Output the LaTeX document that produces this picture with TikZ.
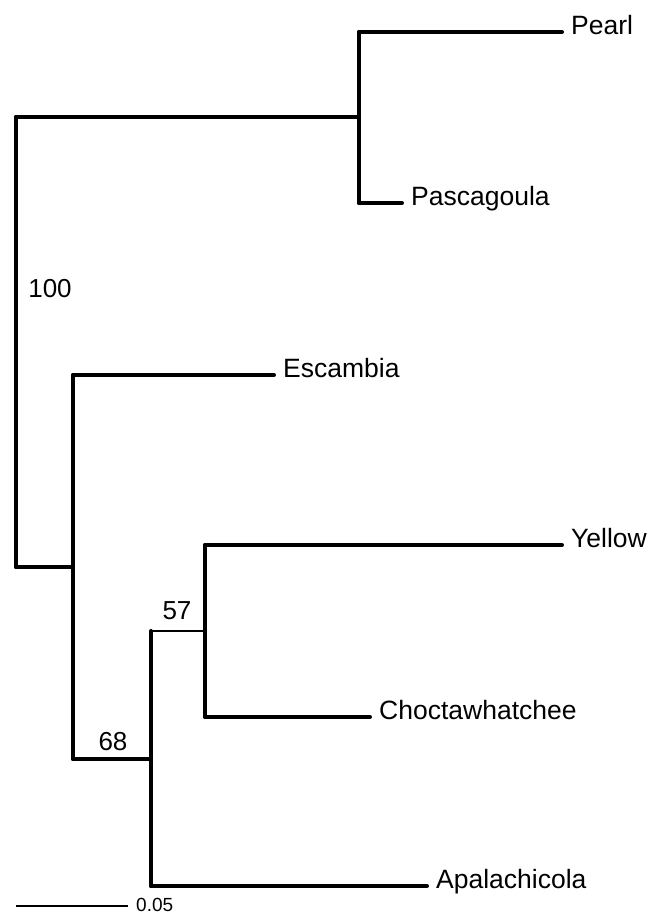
\documentclass[tikz,border=0pt]{standalone}
\usepackage{fontspec}
\setmainfont{Liberation Sans}
\usetikzlibrary{positioning, calc}

\begin{document}
\begin{tikzpicture}[
  x=1pt, y=-1pt,
  branch/.style={line width=4pt, line cap=round, black},
  thinbranch/.style={line width=2pt, black},
  taxon/.style={anchor=mid west, inner sep=0pt, xshift=9pt,
        font=\fontsize{26.5}{31}\selectfont},
  support/.style={inner sep=0pt, font=\fontsize{26}{29}\selectfont},
  scalelbl/.style={anchor=mid west, inner sep=0pt,
        font=\fontsize{19}{22}\selectfont},
]
\useasboundingbox (0,0) rectangle (660,916);

% --- internal nodes (x = depth, y = midpoint of the children) ---
\coordinate (root)  at (16,342);
\coordinate (east)  at (359,117);
\coordinate (west)  at (73,567);
\coordinate (lower) at (151,759);
\coordinate (ycho)  at (205,631);

% --- tips ---
\coordinate (pearl) at (562,32);
\coordinate (pasc)  at (402,203);
\coordinate (esc)   at (274,375);
\coordinate (yel)   at (562,545);
\coordinate (cho)   at (370,717);
\coordinate (apa)   at (427,886);

\node[taxon] (tPearl) at (pearl) {Pearl};
\node[taxon] (tPasc)  at (pasc)  {Pascagoula};
\node[taxon] (tEsc)   at (esc)   {Escambia};
\node[taxon] (tYel)   at (yel)   {Yellow};
\node[taxon] (tCho)   at (cho)   {Choctawhatchee};
\node[taxon] (tApa)   at (apa)   {Apalachicola};

% --- vertical connectors ---
\draw[branch] (root |- east) -- (root |- west);
\draw[branch] (east |- pearl) -- (east |- pasc);
\draw[branch] (west |- esc) -- (west |- lower);
\draw[branch] (lower |- ycho) -- (lower |- apa);
\draw[branch] (ycho |- yel) -- (ycho |- cho);

% --- horizontal branches ---
\draw[branch] (root |- east) -- (east);
\draw[branch] (root |- west) -- (west);
\draw[branch] (east |- pearl) -- (pearl);
\draw[branch] (east |- pasc) -- (pasc);
\draw[branch] (west |- esc) -- (esc);
\draw[branch] (west |- lower) -- (lower);
\draw[thinbranch] (lower |- ycho) -- (ycho);
\draw[branch] (ycho |- yel) -- (yel);
\draw[branch] (ycho |- cho) -- (cho);
\draw[branch] (lower |- apa) -- (apa);

% --- bootstrap support ---
\node[support] (bs100) at (50,289) {100};
\node[support] (bs68)  at (113,742) {68};
\node[support] (bs57)  at (177,611) {57};

% --- scale bar ---
\coordinate (sbL) at (16,906);
\coordinate (sbR) at (128,906);
\draw[thinbranch] (sbL) -- (sbR);
\node[scalelbl, right=8pt of sbR, yshift=1.5pt] (sb) {0.05};

\end{tikzpicture}
\end{document}
